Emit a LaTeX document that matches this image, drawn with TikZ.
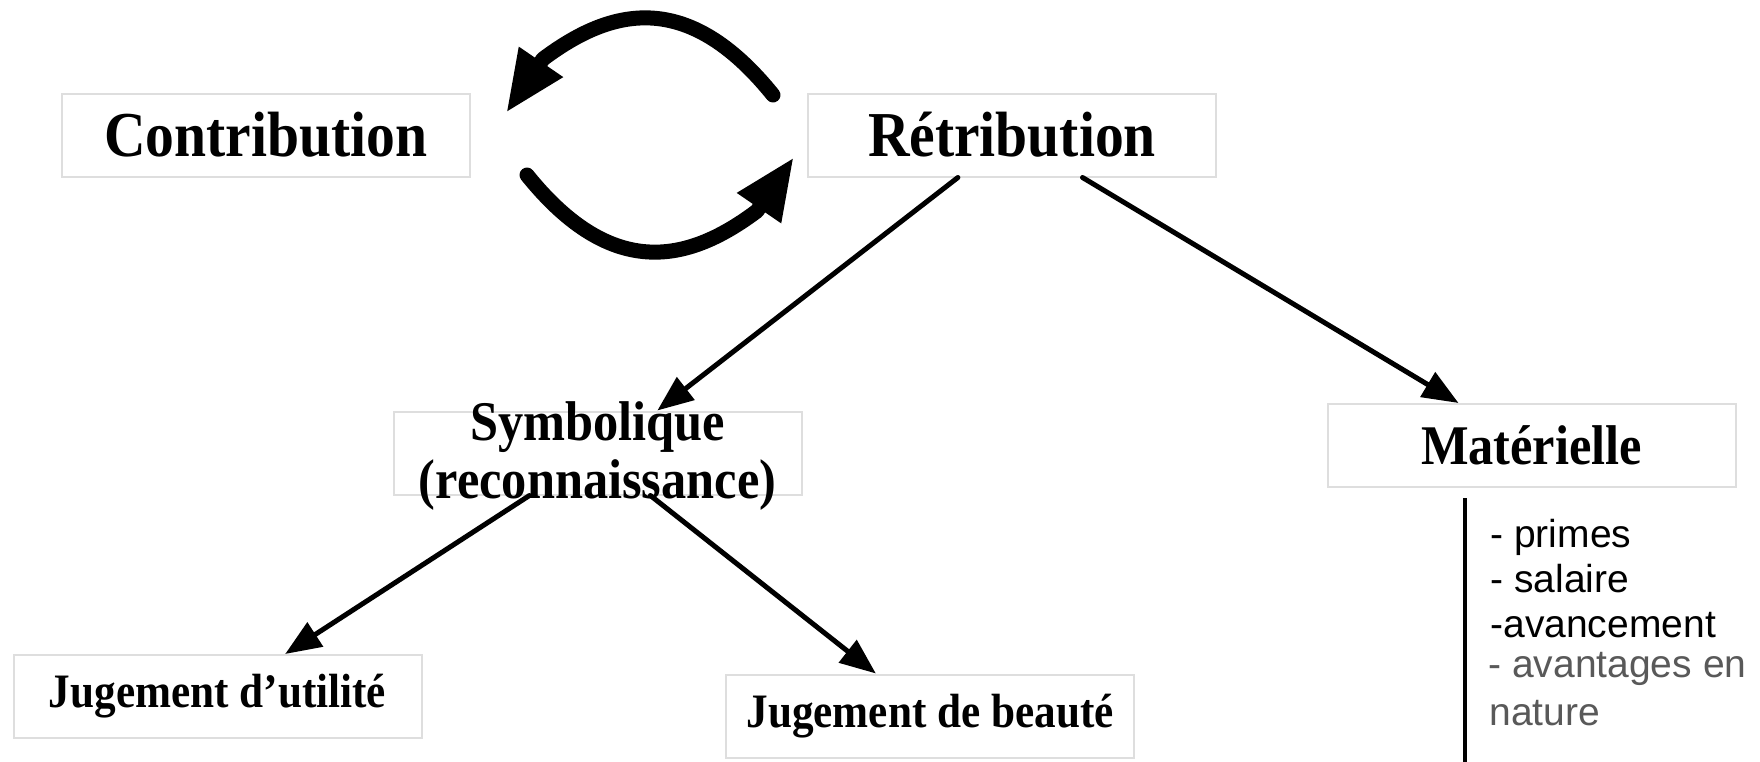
\documentclass[tikz,border=0pt]{standalone}
\usepackage{fontspec}
\usepackage{graphicx}
\setmainfont{Liberation Serif}
\newfontfamily\arialf{Liberation Sans}
\usetikzlibrary{arrows.meta,calc}
\newcommand{\sqz}[1]{\scalebox{0.9}[1]{#1}}
\begin{document}
\begin{tikzpicture}[x=0.5pt,y=-0.5pt,
  box/.style={draw=black!13, line width=1pt, fill=white, minimum width=204pt, minimum height=41.5pt, inner sep=0pt},
  bigt/.style={font=\bfseries\fontsize{32}{36}\selectfont},
  midt/.style={font=\bfseries\fontsize{28}{29}\selectfont},
  smallt/.style={font=\bfseries\fontsize{24}{28}\selectfont},
  link/.style={line width=2.5pt, line cap=round, -{Triangle[length=18pt,width=14pt]}},
  cyc/.style={line width=7.5pt, line cap=round, line join=round, -{Triangle[length=31pt,width=24.5pt]}},
  item/.style={font=\arialf\fontsize{19.5}{22}\selectfont, anchor=base west, inner sep=0pt},
]
\fill[white] (0,0) rectangle (1760,761);
\useasboundingbox (0,0) rectangle (1760,761);

% boxes
\node[box,bigt] (contrib) at (266,135) {\sqz{Contribution}};
\node[box,bigt] (retrib) at (1012,135) {\sqz{Rétribution}};
\node[box] (symbox) at (597.5,453) {};
\node[midt, align=center, anchor=base, inner sep=0pt] (symtxt) at (597.5,498) {\sqz{Symbolique}\\\sqz{(reconnaissance)}};
\node[box,midt] (mater) at (1531.5,445.5) {\sqz{Matérielle}};
\node[box,smallt] (utile) at (217.5,696.5) {\sqz{Jugement d’utilité}};
\node[box,smallt] (beaute) at (930,716) {\sqz{Jugement de beauté}};

% list under Matérielle
\coordinate (vtop) at (1465,498);
\coordinate (vbot) at (1465,765);
\draw[line width=2pt] (vtop) -- (vbot);
\node[item] (i1) at (1490,547) {- primes};
\node[item] (i2) at (1490,592) {- salaire};
\node[item] (i3) at (1490,637) {-avancement};
\node[item, text=black!65] (i4) at (1488,677) {- avantages en};
\node[item, text=black!65] (i5) at (1489,725) {nature};

% straight arrows
\draw[link] ($(retrib.south west)!0.368!(retrib.south east)$) -- ($(symbox.north west)!0.646!(symbox.north east)$);
\draw[link] ($(retrib.south west)!0.672!(retrib.south east)$) -- ($(mater.north west)!0.322!(mater.north east)$);
\draw[link] ($(symbox.south west)!0.334!(symbox.south east)$) -- ($(utile.north west)!0.665!(utile.north east)$);
\draw[link] ($(symbox.south west)!0.629!(symbox.south east)$) -- ($(beaute.north west)!0.368!(beaute.north east)$);

% cycle arrows
\coordinate (c1s) at (773,95);
\coordinate (c1a) at (686,-13);
\coordinate (c1b) at (609,9.6);
\coordinate (c1e) at (543,59);
\coordinate (c1t) at (506,113);
\draw[cyc] (c1s) .. controls (c1a) and (c1b) .. (c1e) -- (c1t);
\coordinate (c2s) at (527,175);
\coordinate (c2a) at (614,283);
\coordinate (c2b) at (691,260.4);
\coordinate (c2e) at (757,211);
\coordinate (c2t) at (794,157);
\draw[cyc] (c2s) .. controls (c2a) and (c2b) .. (c2e) -- (c2t);
\end{tikzpicture}
\end{document}
